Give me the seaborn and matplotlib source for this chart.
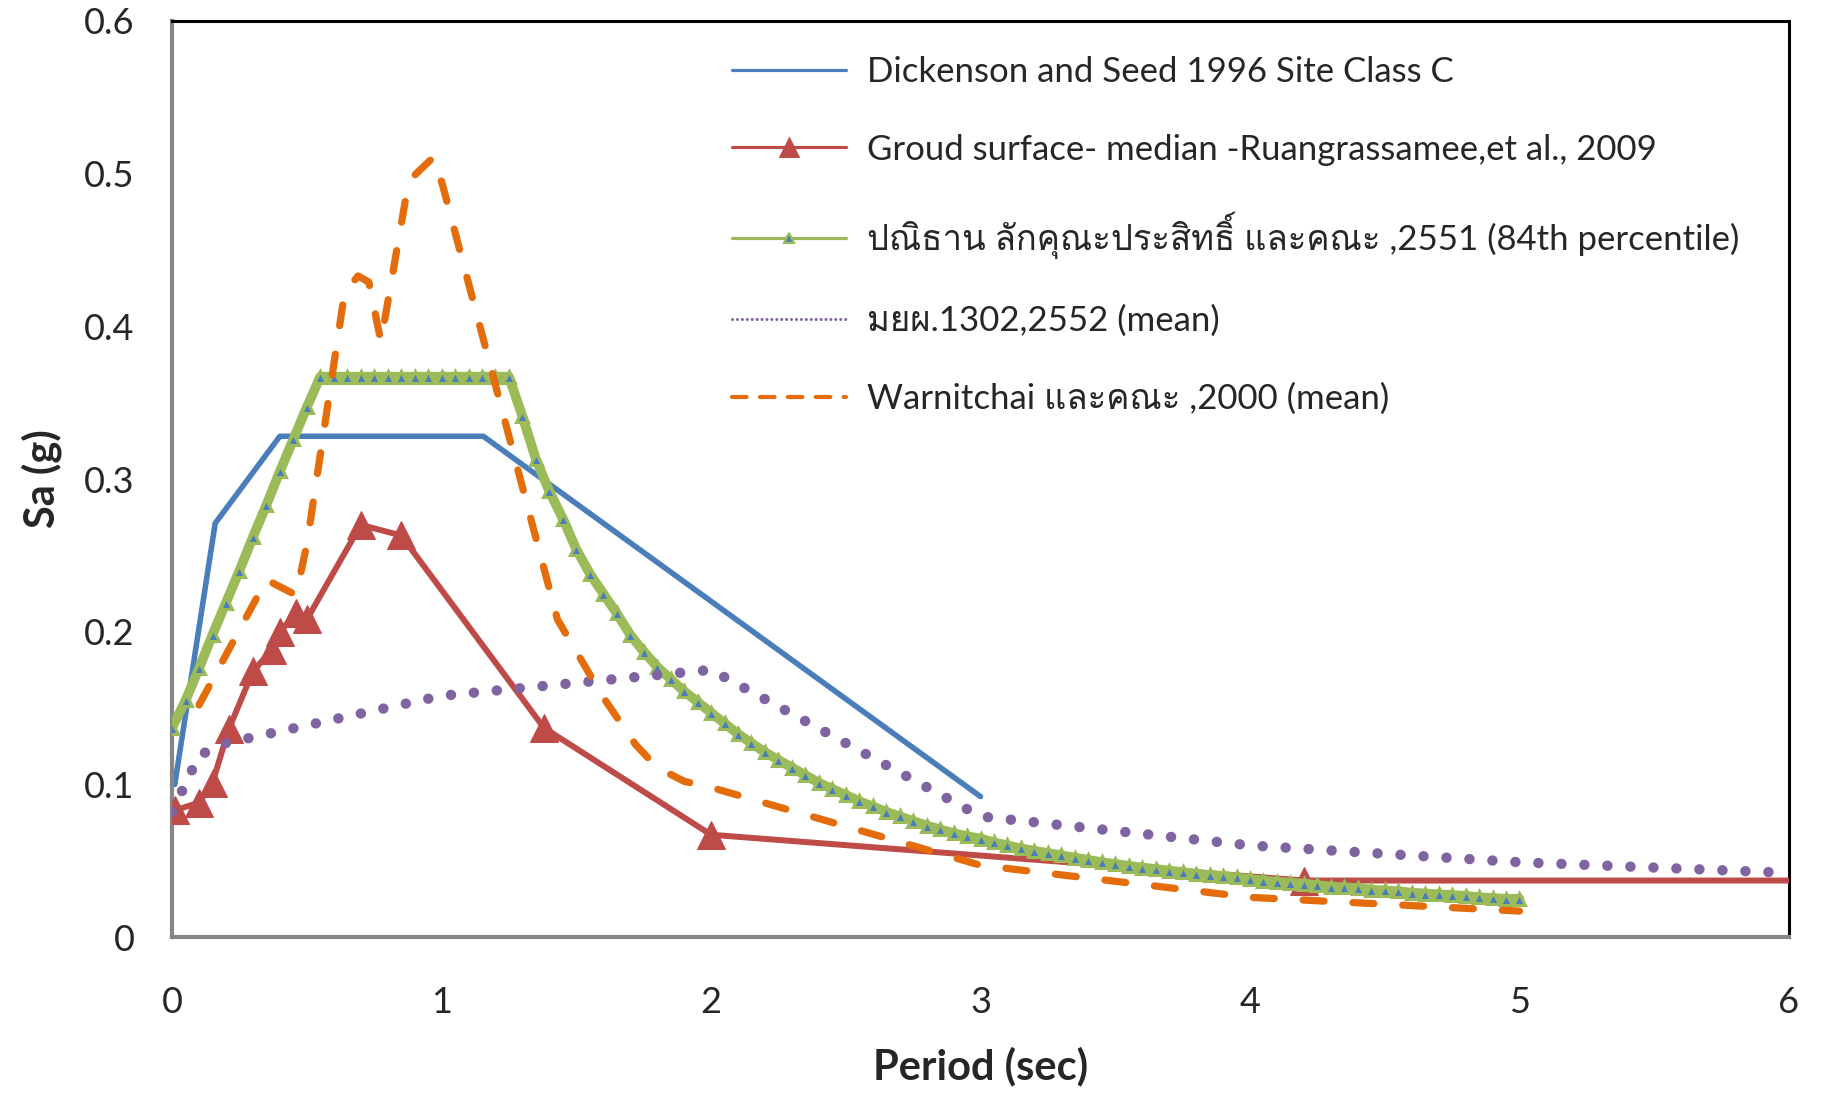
import numpy as np
import pandas as pd
import seaborn as sns
import matplotlib
matplotlib.use("Agg")
import matplotlib.pyplot as plt
from matplotlib import font_manager
from matplotlib.ft2font import FT2Font

# Dickenson and Seed 1996, site class C
dick_period = [0.01, 0.16, 0.40, 1.155, 3.0]
dick_sa = [0.100, 0.271, 0.328, 0.328, 0.092]

# Ruangrassamee et al. 2009, ground surface median
ruang_period = [0.01, 0.10, 0.15, 0.21, 0.30, 0.37, 0.40, 0.46, 0.50, 0.70, 0.85, 1.38, 2.0, 4.2, 6.0]
ruang_sa = [0.083, 0.088, 0.101, 0.136, 0.174, 0.188, 0.200, 0.212, 0.208, 0.270, 0.263, 0.137, 0.067, 0.037, 0.037]

# 84th percentile spectrum, sampled every 0.05 s
pan_period = np.linspace(0, 5, 101)
pan_sa = [
    0.137, 0.155, 0.176, 0.198, 0.219, 0.240, 0.262, 0.283, 0.305, 0.326, 0.347, 0.367,
    0.367, 0.367, 0.367, 0.367, 0.367, 0.367, 0.367, 0.367, 0.367, 0.367, 0.367, 0.367, 0.367,
    0.367, 0.341, 0.313, 0.292, 0.274, 0.254, 0.238, 0.225, 0.212, 0.198, 0.187, 0.177, 0.169, 0.161, 0.154, 0.147,
    0.140, 0.133, 0.127, 0.121, 0.116, 0.111, 0.106, 0.101, 0.097, 0.093,
    0.089, 0.0855, 0.082, 0.079, 0.076, 0.073, 0.0705, 0.068, 0.066, 0.0645,
    0.062, 0.060, 0.058, 0.0565, 0.055, 0.0535, 0.052, 0.0505, 0.049, 0.0478,
    0.0466, 0.0455, 0.0445, 0.0435, 0.0425, 0.0415, 0.0405, 0.040, 0.039, 0.038,
    0.037, 0.0362, 0.0355, 0.035, 0.034, 0.033, 0.0325, 0.032, 0.031, 0.0305,
    0.030, 0.029, 0.0285, 0.028, 0.0275, 0.027, 0.026, 0.0255, 0.025, 0.025,
]

# DPT 1302 (mean)
dpt_period = [0, 0.1, 0.2, 1.0, 2.0, 3.0, 4.0, 5.0, 6.0]
dpt_sa = [0.082, 0.119, 0.127, 0.158, 0.175, 0.079, 0.060, 0.049, 0.042]

# Warnitchai et al. 2000 (mean)
warn_period = [0.10, 0.35, 0.46, 0.50, 0.64, 0.69, 0.73, 0.775, 0.87, 0.90, 0.965, 0.975, 1.0,
               1.43, 1.60, 1.72, 1.80, 1.90, 2.0, 3.0, 4.0, 5.0]
warn_sa = [0.152, 0.234, 0.224, 0.257, 0.422, 0.433, 0.429, 0.390, 0.487, 0.499, 0.510, 0.498, 0.495,
           0.208, 0.157, 0.126, 0.111, 0.102, 0.098, 0.047, 0.026, 0.017]

labels = [
    "Dickenson and Seed 1996 Site Class C",
    "Groud surface- median -Ruangrassamee,et al., 2009",
    "ปณิธาน ลักคุณะประสิทธิ์ และคณะ ,2551 (84th percentile)",
    "มยผ.1302,2552 (mean)",
    "Warnitchai และคณะ ,2000 (mean)",
]

x_ticks = [0, 1, 2, 3, 4, 5, 6]
y_ticks = [0, 0.1, 0.2, 0.3, 0.4, 0.5, 0.6]
y_ticklabels = ["0", "0.1", "0.2", "0.3", "0.4", "0.5", "0.6"]

# find some installed font that has Thai glyphs
thai_font = None
for f in font_manager.fontManager.ttflist:
    try:
        if 0x0E01 in FT2Font(f.fname).get_charmap():
            thai_font = f.name
            break
    except Exception:
        pass

sns.set_style("white")
families = ["Lato"]
if thai_font:
    families.append(thai_font)
families.append("DejaVu Sans")
plt.rcParams["font.family"] = families

fig = plt.figure(figsize=(18.21, 10.93), dpi=100)
ax = fig.add_axes([0.0945, 0.1427, 0.8879, 0.8381])

blue, red, green, purple, orange = "#4A7EBB", "#BE4B48", "#9BBB59", "#8064A2", "#E46C0A"

sns.lineplot(x=dick_period, y=dick_sa, ax=ax, color=blue, linewidth=4, label=labels[0], zorder=2)
sns.lineplot(x=ruang_period, y=ruang_sa, ax=ax, color=red, linewidth=4.3, marker="^",
             markersize=20, markeredgecolor=red, markevery=list(range(len(ruang_period) - 1)),
             label=labels[1], zorder=3)
sns.lineplot(x=pan_period, y=pan_sa, ax=ax, color=green, linewidth=7, marker="^", markersize=8,
             markerfacecolor=blue, markeredgecolor=green, markeredgewidth=2.2,
             label=labels[2], zorder=4)
sns.lineplot(x=dpt_period, y=dpt_sa, ax=ax, color=purple, linewidth=7.5,
             linestyle=(0, (0.01, 2.2)), dash_capstyle="round", label=labels[3], zorder=5)
sns.lineplot(x=warn_period, y=warn_sa, ax=ax, color=orange, linewidth=5.2,
             linestyle=(0, (2.9, 4.0)), dash_capstyle="round", label=labels[4], zorder=6)

ax.set_xlim(0, 6)
ax.set_ylim(0, 0.6)
ax.set_xticks(x_ticks)
ax.set_xticklabels([str(t) for t in x_ticks])
ax.set_yticks(y_ticks)
ax.set_yticklabels(y_ticklabels)
ax.tick_params(axis="both", length=0, labelsize=26)
ax.tick_params(axis="x", pad=35)
ax.tick_params(axis="y", pad=27)

ax.set_xlabel("Period (sec)", fontsize=30, fontweight="bold", labelpad=20)
ax.set_ylabel("Sa (g)", fontsize=30, fontweight="bold", labelpad=16)

for side in ["left", "bottom"]:
    ax.spines[side].set_color("#868686")
    ax.spines[side].set_linewidth(3)
for side in ["top", "right"]:
    ax.spines[side].set_color("black")
    ax.spines[side].set_linewidth(2.2)

leg = ax.legend(loc="upper left", bbox_to_anchor=(0.346, 0.962), frameon=False, fontsize=25,
                handlelength=3.3, handletextpad=0.6, labelspacing=1.32, borderpad=0,
                borderaxespad=0)
for i, line in enumerate(leg.get_lines()):
    line.set_linewidth(2.3)
    if i == 1:
        line.set_markersize(14)
    if i == 2:
        line.set_markersize(7)
        line.set_markeredgewidth(1.5)
    if i == 3:
        line.set_linewidth(2.2)
        line.set_dashes((0.01, 1.6))
    if i == 4:
        line.set_linewidth(3)
        line.set_dashes((3.5, 3.2))

fig.savefig("out.png", dpi=100)
